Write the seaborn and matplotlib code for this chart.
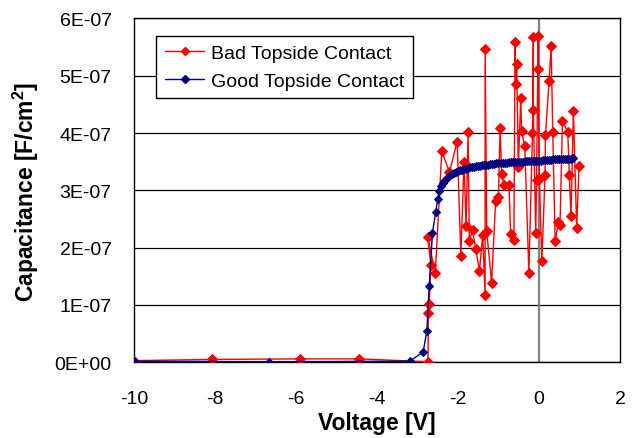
import numpy as np
import pandas as pd
import matplotlib
matplotlib.use("Agg")
import matplotlib.pyplot as plt
from matplotlib.ticker import FuncFormatter
from matplotlib.lines import Line2D
import seaborn as sns

# ---- data (voltage in V, capacitance in units of 1E-07 F/cm^2) ----
bad_v = [-10.0, -8.08, -5.90, -4.45, -2.74, -2.73, -2.71, -2.67, -2.75, -2.56,
         -2.40, -2.21, -2.02, -1.93, -1.85, -1.80, -1.75, -1.72, -1.64, -1.56,
         -1.47, -1.39, -1.33, -1.33, -1.29, -1.17, -1.07, -1.00, -0.96, -0.92,
         -0.86, -0.74, -0.70, -0.62, -0.59, -0.57, -0.55, -0.51, -0.45, -0.43,
         -0.35, -0.25, -0.16, -0.14, -0.14, -0.08, -0.06, -0.02, -0.02, 0.01,
         0.07, 0.15, 0.16, 0.25, 0.30, 0.34, 0.40, 0.48, 0.52, 0.58,
         0.71, 0.75, 0.79, 0.85, 0.93, 0.99]
bad_c = [0.03, 0.05, 0.06, 0.06, 0.01, 0.86, 1.02, 1.70, 2.19, 1.56,
         3.68, 3.32, 3.85, 1.86, 3.50, 2.37, 4.02, 2.12, 2.30, 1.98,
         1.59, 2.22, 1.18, 5.47, 2.29, 1.39, 2.81, 2.89, 4.09, 3.28,
         3.09, 3.09, 2.23, 2.13, 5.59, 4.86, 5.21, 3.40, 4.62, 4.03,
         3.77, 1.56, 4.00, 5.67, 4.40, 2.25, 3.18, 5.70, 5.11, 3.20,
         1.76, 3.26, 3.96, 4.90, 5.52, 4.02, 2.12, 2.44, 2.40, 4.21,
         4.02, 3.26, 2.55, 4.39, 2.35, 3.43]

good_v = [-10.0, -6.66, -3.19, -2.86, -2.77, -2.71, -2.63, -2.55, -2.50, -2.46,
          -2.42, -2.38, -2.34, -2.30, -2.25, -2.20, -2.15, -2.10, -2.05, -2.00,
          -1.95, -1.90, -1.85, -1.80, -1.75, -1.70, -1.65, -1.60, -1.55, -1.50,
          -1.45, -1.40, -1.35, -1.30, -1.25, -1.20, -1.15, -1.10, -1.05, -1.00,
          -0.95, -0.90, -0.85, -0.80, -0.75, -0.70, -0.65, -0.60, -0.55, -0.50,
          -0.45, -0.40, -0.35, -0.30, -0.25, -0.20, -0.15, -0.10, -0.05, 0.00,
          0.05, 0.10, 0.15, 0.20, 0.25, 0.30, 0.35, 0.40, 0.45, 0.50,
          0.55, 0.60, 0.65, 0.70, 0.75, 0.80, 0.85]
good_c = [0.02, 0.01, 0.02, 0.18, 0.54, 1.34, 2.26, 2.62, 2.85, 2.99,
          3.07, 3.13, 3.17, 3.20, 3.23, 3.26, 3.28, 3.30, 3.32, 3.33,
          3.35, 3.36, 3.37, 3.38, 3.39, 3.40, 3.40, 3.41, 3.42, 3.42,
          3.43, 3.44, 3.44, 3.45, 3.45, 3.46, 3.46, 3.46, 3.47, 3.47,
          3.47, 3.48, 3.48, 3.48, 3.49, 3.49, 3.49, 3.49, 3.50, 3.50,
          3.50, 3.50, 3.51, 3.51, 3.51, 3.51, 3.51, 3.52, 3.52, 3.52,
          3.52, 3.53, 3.53, 3.53, 3.53, 3.53, 3.54, 3.54, 3.54, 3.54,
          3.54, 3.55, 3.55, 3.55, 3.55, 3.55, 3.56]

series_names = ["Bad Topside Contact", "Good Topside Contact"]
x_ticks = [-10, -8, -6, -4, -2, 0, 2]
y_ticks_e7 = [0, 1, 2, 3, 4, 5, 6]

RED = "#FF0000"
NAVY = "#000080"

bad_df = pd.DataFrame({"V": bad_v, "C": np.array(bad_c) * 1e-7})
good_df = pd.DataFrame({"V": good_v, "C": np.array(good_c) * 1e-7})

sns.set_theme(style="white")
plt.rcParams["font.family"] = ["Liberation Sans", "DejaVu Sans"]
plt.rcParams["text.color"] = "black"
plt.rcParams["axes.labelcolor"] = "black"

fig = plt.figure(figsize=(6.36, 4.39), dpi=100)
ax = fig.add_axes([0.2107, 0.1724, 0.9748 - 0.2107, 0.9558 - 0.1724])

# horizontal gridlines + zero vertical line
for yt in y_ticks_e7:
    ax.axhline(yt * 1e-7, color="black", lw=0.9, zorder=0.5)
ax.axvline(0, color="#808080", lw=1.6, zorder=0.6)

sns.lineplot(data=bad_df, x="V", y="C", sort=False, estimator=None, ax=ax,
             color=RED, lw=1.0, marker="D", markersize=5.0,
             markeredgecolor=RED, markerfacecolor=RED, zorder=3)
sns.lineplot(data=good_df, x="V", y="C", sort=False, estimator=None, ax=ax,
             color=NAVY, lw=1.0, marker="D", markersize=3.6,
             markeredgecolor=NAVY, markerfacecolor=NAVY, zorder=4)

ax.set_xlim(-10, 2)
ax.set_ylim(0, 6e-7)
ax.set_xticks(x_ticks)
ax.set_yticks([v * 1e-7 for v in y_ticks_e7])
ax.yaxis.set_major_formatter(FuncFormatter(
    lambda v, p: "0E+00" if abs(v) < 1e-12 else f"{int(round(v / 1e-7))}E-07"))
ax.xaxis.set_major_formatter(FuncFormatter(lambda v, p: f"{int(round(v))}"))

for s in ax.spines.values():
    s.set_visible(True)
    s.set_color("black")
    s.set_linewidth(1.0)

ax.tick_params(axis="both", which="major", direction="out", length=5,
               width=1, color="black", labelsize=14, labelcolor="black")
ax.tick_params(axis="x", pad=15)
ax.tick_params(axis="y", pad=11)

ax.set_xlabel("Voltage [V]", fontsize=16.5, fontweight="bold", labelpad=3,
              color="black")
ax.set_ylabel("Capacitance [F/cm$^\\mathregular{2}$]", fontsize=16.5,
              fontweight="bold", labelpad=10, color="black")

handles = [
    Line2D([], [], color=RED, lw=1.0, marker="D", markersize=4.5,
           markerfacecolor=RED, markeredgecolor=RED),
    Line2D([], [], color=NAVY, lw=1.0, marker="D", markersize=3.6,
           markerfacecolor=NAVY, markeredgecolor=NAVY),
]
leg = ax.legend(handles, series_names, loc="upper left",
                bbox_to_anchor=(0.046, 0.949), fontsize=14, frameon=True,
                fancybox=False, edgecolor="black", framealpha=1,
                borderpad=0.45, handlelength=2.0, handletextpad=0.35,
                labelspacing=0.5, borderaxespad=0)
leg.get_frame().set_linewidth(1.0)
leg.set_zorder(10)
for t in leg.get_texts():
    t.set_color("black")

fig.savefig("out.png", dpi=100, facecolor="white")
